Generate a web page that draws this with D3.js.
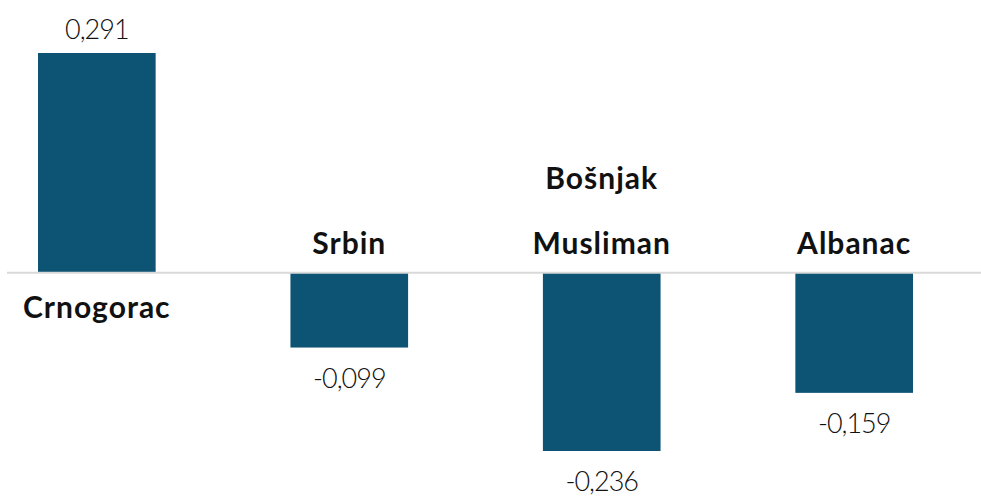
<!DOCTYPE html>
<html>
<head>
<meta charset="utf-8">
<script src="https://cdn.jsdelivr.net/npm/d3@7"></script>
<style>
  html, body { margin: 0; padding: 0; background: #fff; }
  svg { display: block; font-family: Lato, "Open Sans", sans-serif; }
</style>
</head>
<body>
<svg id="chart" width="981" height="502"></svg>
<script>
// chart data
const categories = ['Crnogorac', 'Srbin', 'Bošnjak Musliman', 'Albanac'];
const labelLines = [['Crnogorac'], ['Srbin'], ['Bošnjak', 'Musliman'], ['Albanac']];
const values = [0.291, -0.099, -0.236, -0.159];
const valueLabels = ['0,291', '-0,099', '-0,236', '-0,159'];

const width = 981;
const height = 502;
const svg = d3.select('#chart');

const x = d3.scaleBand()
    .domain(categories)
    .range([38, 913])
    .paddingInner(0.534)
    .paddingOuter(0);

const y = d3.scaleLinear()
    .domain([-0.236, 0.291])
    .range([451, 53]);

// bars
svg.selectAll('rect.bar')
    .data(values)
    .enter()
    .append('rect')
    .attr('class', 'bar')
    .attr('x', (d, i) => x(categories[i]))
    .attr('width', x.bandwidth())
    .attr('y', d => Math.min(y(d), y(0)))
    .attr('height', d => Math.abs(y(d) - y(0)))
    .attr('fill', '#0c5374');

// zero line
svg.append('line')
    .attr('x1', 7)
    .attr('x2', width)
    .attr('y1', y(0))
    .attr('y2', y(0))
    .attr('stroke', '#d9d9d9')
    .attr('stroke-width', 2);

// category labels: below the line for positive bars, above it for negative ones
const cat = svg.selectAll('text.cat')
    .data(labelLines)
    .enter()
    .append('text')
    .attr('class', 'cat')
    .attr('text-anchor', 'middle')
    .attr('font-size', 30)
    .attr('font-weight', 700)
    .attr('letter-spacing', 1)
    .attr('fill', '#111');

cat.each(function (lines, i) {
    const cx = x(categories[i]) + x.bandwidth() / 2;
    const lineGap = 65;
    let base;
    if (values[i] >= 0) {
        base = y(0) + 45;
    } else {
        base = y(0) - 19 - (lines.length - 1) * lineGap;
    }
    d3.select(this).selectAll('tspan')
        .data(lines)
        .enter()
        .append('tspan')
        .attr('x', cx)
        .attr('y', (d, j) => base + j * lineGap)
        .text(d => d);
});

// value labels
svg.selectAll('text.val')
    .data(values)
    .enter()
    .append('text')
    .attr('class', 'val')
    .attr('text-anchor', 'middle')
    .attr('font-size', 27)
    .attr('font-weight', 300)
    .attr('letter-spacing', -1)
    .attr('fill', '#111')
    .attr('x', (d, i) => x(categories[i]) + x.bandwidth() / 2)
    .attr('y', d => d >= 0 ? y(d) - 14 : y(d) + 40)
    .text((d, i) => valueLabels[i]);
</script>
</body>
</html>
